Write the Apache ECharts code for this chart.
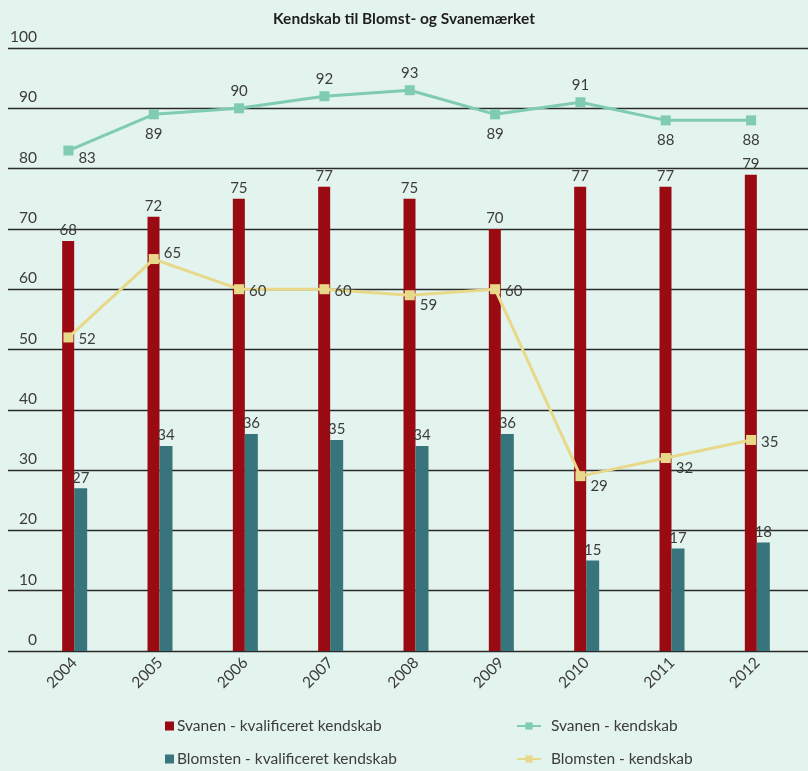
<!DOCTYPE html>
<html><head><meta charset="utf-8">
<script src="https://cdn.jsdelivr.net/npm/echarts@6/dist/echarts.min.js"></script>
<style>html,body{margin:0;padding:0;background:#e3f3ed;}#c{width:808px;height:771px;}</style>
</head><body><div id="c"></div>
<script>
const years = ['2004','2005','2006','2007','2008','2009','2010','2011','2012'];
const yTicks = [0,10,20,30,40,50,60,70,80,90,100];
const svanenKval = [68,72,75,77,75,70,77,77,79];
const blomstenKval = [27,34,36,35,34,36,15,17,18];
const svanenKend = [83,89,90,92,93,89,91,88,88];
const blomstenKend = [52,65,60,60,59,60,29,32,35];
const svanenLabelPos = ['br','bottom','top','top','top','bottom','top','bottom','bottom'];
const blomstenLabelPos = ['right','rt','right','right','rb','right','rb','rb','right'];

const FONT = 'Lato';
const TXT = '#3c3c3c';
const chart = echarts.init(document.getElementById('c'), null, {renderer:'canvas'});

function posCfg(p){
  if(p==='br') return {position:'right', offset:[0,8]};
  if(p==='rb') return {position:'right', offset:[0,10]};
  if(p==='rt') return {position:'right', offset:[0,-6]};
  if(p==='bottom') return {position:'bottom', distance:7};
  if(p==='top') return {position:'top', distance:5};
  return {position:'right', offset:[0,2]};
}

const lblStyle = {show:true, color:TXT, fontFamily:FONT, fontSize:15};

chart.setOption({
  backgroundColor:'#e3f3ed',
  animation:false,
  title:{text:'Kendskab til Blomst- og Svanemærket', left:'center', top:6,
    textStyle:{fontFamily:FONT, fontSize:15.5, fontWeight:'bold', color:'#1e1e1e'}},
  grid:[
    {left:8, right:0, top:48, bottom:120},
    {left:32, right:8, top:48, bottom:120},
    {left:25.75, right:14.25, top:48, bottom:120}
  ],
  xAxis:[
    {gridIndex:0, type:'value', show:false, min:0, max:1},
    {gridIndex:1, type:'category', data:years, axisLine:{show:false}, axisTick:{show:false},
      axisLabel:{rotate:45, margin:9, color:TXT, fontFamily:FONT, fontSize:15.5}},
    {gridIndex:2, type:'category', data:years, show:false}
  ],
  yAxis:[
    {gridIndex:0, type:'value', min:0, max:100, interval:10,
      axisLine:{show:false}, axisTick:{show:false},
      splitLine:{show:true, lineStyle:{color:'#2a2a2a', width:1.3}},
      axisLabel:{inside:true, align:'right', margin:29, verticalAlign:'bottom', padding:[0,0,3,0],
        color:TXT, fontFamily:FONT, fontSize:15.5,
        formatter:function(v){ return yTicks.indexOf(v)>=0 ? String(v) : ''; }}},
    {gridIndex:1, type:'value', min:0, max:100, show:false},
    {gridIndex:2, type:'value', min:0, max:100, show:false}
  ],
  legend:[
    {data:['Svanen - kvalificeret kendskab'], left:165, top:718, padding:0, itemWidth:9, itemHeight:9,
      icon:'rect', textStyle:{color:TXT, fontFamily:FONT, fontSize:15.5, padding:[0,0,0,-2]}},
    {data:['Blomsten - kvalificeret kendskab'], left:165, top:751, padding:0, itemWidth:9, itemHeight:9,
      icon:'rect', textStyle:{color:TXT, fontFamily:FONT, fontSize:15.5, padding:[0,0,0,-2]}},
    {data:['Svanen - kendskab'], left:516, top:718, padding:0, itemWidth:24, itemHeight:9,
      textStyle:{color:TXT, fontFamily:FONT, fontSize:15.5, padding:[0,0,0,5]}},
    {data:['Blomsten - kendskab'], left:516, top:751, padding:0, itemWidth:24, itemHeight:9,
      textStyle:{color:TXT, fontFamily:FONT, fontSize:15.5, padding:[0,0,0,5]}}
  ],
  series:[
    {name:'Svanen - kvalificeret kendskab', type:'bar', xAxisIndex:1, yAxisIndex:1,
      data:svanenKval, barWidth:12, barGap:'0%', itemStyle:{color:'#9a0a12'},
      label:Object.assign({position:'top', distance:3}, lblStyle)},
    {name:'Blomsten - kvalificeret kendskab', type:'bar', xAxisIndex:1, yAxisIndex:1,
      data:blomstenKval, barWidth:13, barGap:'0%', itemStyle:{color:'#37747b'},
      label:Object.assign({position:'top', distance:3}, lblStyle)},
    {name:'Svanen - kendskab', type:'line', xAxisIndex:2, yAxisIndex:2,
      data:svanenKend.map((v,i)=>({value:v, label:posCfg(svanenLabelPos[i])})),
      symbol:'rect', symbolSize:10, lineStyle:{color:'#7fcbb4', width:3},
      itemStyle:{color:'#7fcbb4'}, label:lblStyle, z:5},
    {name:'Blomsten - kendskab', type:'line', xAxisIndex:2, yAxisIndex:2,
      data:blomstenKend.map((v,i)=>({value:v, label:posCfg(blomstenLabelPos[i])})),
      symbol:'rect', symbolSize:10, lineStyle:{color:'#e8d98a', width:3},
      itemStyle:{color:'#e8d98a'}, label:lblStyle, z:5}
  ]
});
</script></body></html>
